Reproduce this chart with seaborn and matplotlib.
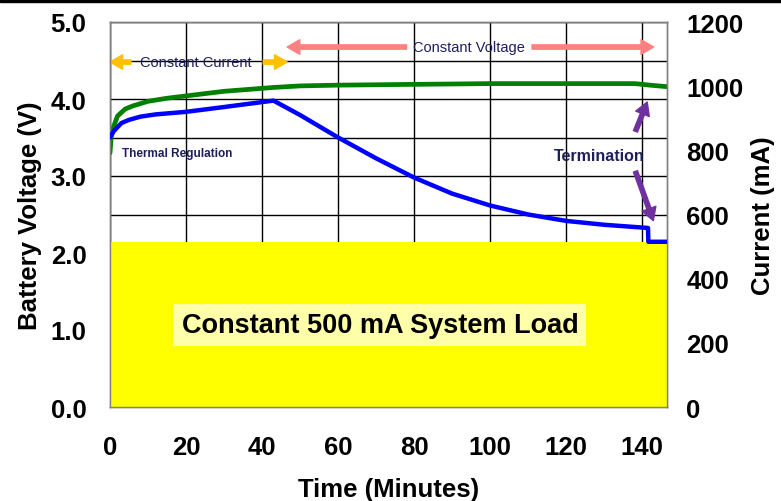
import matplotlib
matplotlib.use("Agg")
import matplotlib.pyplot as plt
import matplotlib.ticker as ticker
from matplotlib.patches import Rectangle
import pandas as pd
import seaborn as sns

# battery voltage (left axis)
volt_time = [0, 0.3, 1, 2, 4, 6, 10, 15, 20, 30, 43, 50, 60, 80, 100, 120, 138, 142, 146.5]
volt_v = [3.30, 3.50, 3.65, 3.78, 3.87, 3.91, 3.97, 4.01, 4.04, 4.10, 4.15, 4.17, 4.18, 4.19, 4.20, 4.20, 4.20, 4.18, 4.16]

# charge current (right axis)
curr_time = [0, 1, 3, 5, 8, 12, 20, 30, 43, 50, 60, 70, 80, 90, 100, 110, 120, 130, 141.5, 141.6, 146.5]
curr_ma = [840, 860, 885, 895, 905, 912, 920, 935, 955, 910, 840, 775, 715, 665, 628, 600, 580, 568, 558, 515, 515]

# system load (right axis)
load_time = [0, 146.5]
load_ma = [515, 515]

x_ticks = [0, 20, 40, 60, 80, 100, 120, 140]
v_ticks = [0, 1, 2, 3, 4, 5]
ma_ticks = [0, 200, 400, 600, 800, 1000, 1200]

NAVY = "#1f1f5c"

sns.set_theme(style="white")
plt.rcParams["font.family"] = ["Liberation Sans", "DejaVu Sans"]
plt.rcParams["text.color"] = "black"
plt.rcParams["axes.labelcolor"] = "black"
plt.rcParams["xtick.color"] = "black"
plt.rcParams["ytick.color"] = "black"

fig = plt.figure(figsize=(7.81, 5.02), dpi=100)
ax = fig.add_axes([110 / 781, 1 - 408 / 502, 557 / 781, 385 / 502])
ax2 = ax.twinx()

volt = pd.DataFrame({"t": volt_time, "v": volt_v})
curr = pd.DataFrame({"t": curr_time, "ma": curr_ma})

sns.lineplot(data=volt, x="t", y="v", ax=ax, color="#008000", linewidth=3.4, zorder=5)
ax2.fill_between(load_time, 0, load_ma, color="#ffff00", linewidth=0, zorder=1)
sns.lineplot(data=curr, x="t", y="ma", ax=ax2, color="#0000ff", linewidth=3.2, zorder=5)

ax.set_xlim(0, 146.5)
ax.set_ylim(0, 5)
ax2.set_ylim(0, 1200)
ax.set_xticks(x_ticks)
ax.set_yticks(v_ticks)
ax.yaxis.set_minor_locator(ticker.MultipleLocator(0.5))
ax.yaxis.set_major_formatter(ticker.FormatStrFormatter("%.1f"))
ax2.set_yticks(ma_ticks)

ax.grid(True, which="both", color="black", linewidth=1)
ax.grid(False, axis="x", which="minor")
ax.tick_params(axis="x", which="both", length=0, labelsize=18.5, pad=20)
ax.tick_params(axis="y", which="both", length=0, labelsize=18.5, pad=17)
ax2.tick_params(axis="y", length=0, labelsize=18.5, pad=14)
for lab in ax.get_xticklabels() + ax.get_yticklabels() + ax2.get_yticklabels():
    lab.set_fontweight("bold")

for a in (ax, ax2):
    for sp in a.spines.values():
        sp.set_color("#808080")
        sp.set_linewidth(1)

ax.set_xlabel("Time (Minutes)", fontsize=18.5, fontweight="bold", labelpad=13)
ax.set_ylabel("Battery Voltage (V)", fontsize=18.5, fontweight="bold", labelpad=6)
ax2.set_ylabel("Current (mA)", fontsize=18.5, fontweight="bold", labelpad=5)

# annotations
def arrow(a, start, end, color, scale=14):
    a.annotate("", xy=end, xytext=start,
               arrowprops=dict(arrowstyle="simple,head_width=0.75,head_length=0.65,tail_width=0.22",
                               color=color, mutation_scale=scale, shrinkA=0, shrinkB=0), zorder=6)

ax.text(22.6, 4.48, "Constant Current", fontsize=10.5, color=NAVY, ha="center", va="center", zorder=6)
arrow(ax, (5.5, 4.48), (0, 4.48), "#ffc000")
arrow(ax, (40.3, 4.48), (46.6, 4.48), "#ffc000")

ax.text(94.3, 4.675, "Constant Voltage", fontsize=10.5, color=NAVY, ha="center", va="center", zorder=6)
arrow(ax, (78, 4.675), (46.6, 4.675), "#ff8080")
arrow(ax, (111, 4.675), (143, 4.675), "#ff8080")

ax.text(3.2, 3.3, "Thermal Regulation", fontsize=8.5, fontweight="bold", color=NAVY, ha="left", va="center", zorder=6)

ax.text(128.7, 3.26, "Termination", fontsize=11.5, fontweight="bold", color=NAVY, ha="center", va="center", zorder=6)
arrow(ax, (138.2, 3.58), (141.3, 3.96), "#7030a0")
arrow(ax, (138.2, 3.06), (142.9, 2.42), "#7030a0")

ax2.text(71, 255, "Constant 500 mA System Load", fontsize=19.5, fontweight="bold", color="black",
         ha="center", va="center", zorder=6,
         bbox=dict(boxstyle="square,pad=0.3", facecolor="#ffffaa", edgecolor="none"))

fig.add_artist(Rectangle((0, 0.994), 1, 0.006, transform=fig.transFigure, color="black"))

fig.savefig("out.png", dpi=100)
